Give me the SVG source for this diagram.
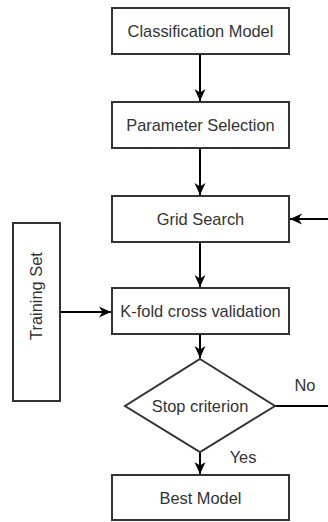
<svg xmlns="http://www.w3.org/2000/svg" width="328" height="522" viewBox="0 0 328 522">
  <defs>
    <marker id="arrow" markerUnits="userSpaceOnUse" markerWidth="13" markerHeight="13" viewBox="0 0 13 13" refX="12" refY="6.5" orient="auto">
      <path d="M0,1 L12,6.5 L0,12 L3.5,6.5 Z" fill="#000"/>
    </marker>
    <style>
      .box { fill: #fff; stroke: #333; stroke-width: 2; }
      .lbl { font-family: "Liberation Sans", Arial, sans-serif; font-size: 16.4px; fill: #333; text-anchor: middle; }
      .edge { fill: none; stroke: #000; stroke-width: 2; }
    </style>
  </defs>
  <rect width="328" height="522" fill="#fff"/>

  <g id="connectors">
    <path class="edge" d="M200,54 V101" marker-end="url(#arrow)"/>
    <path class="edge" d="M200,148 V195" marker-end="url(#arrow)"/>
    <path class="edge" d="M200,242 V287" marker-end="url(#arrow)"/>
    <path class="edge" d="M60,312 H111" marker-end="url(#arrow)"/>
    <path class="edge" d="M200,334 V358" marker-end="url(#arrow)"/>
    <path class="edge" d="M200,452 V474" marker-end="url(#arrow)"/>
    <path class="edge" d="M275,406 H328"/>
    <path class="edge" d="M328,219 H290" marker-end="url(#arrow)"/>
    <text class="lbl" x="305" y="391">No</text>
    <text class="lbl" x="243" y="463">Yes</text>
  </g>

  <g id="classification-model">
    <rect class="box" x="112" y="8" width="177" height="46"/>
    <text class="lbl" x="200.5" y="37">Classification Model</text>
  </g>
  <g id="parameter-selection">
    <rect class="box" x="112" y="102" width="177" height="46"/>
    <text class="lbl" x="200.5" y="131">Parameter Selection</text>
  </g>
  <g id="grid-search">
    <rect class="box" x="112" y="196" width="177" height="46"/>
    <text class="lbl" x="200.5" y="225">Grid Search</text>
  </g>
  <g id="kfold">
    <rect class="box" x="112" y="288" width="177" height="46"/>
    <text class="lbl" x="200.5" y="317">K-fold cross validation</text>
  </g>
  <g id="training-set">
    <rect class="box" x="13" y="223" width="47" height="178"/>
    <text class="lbl" transform="translate(41.5,296) rotate(-90)" x="0" y="0">Training Set</text>
  </g>
  <g id="stop-criterion">
    <polygon class="box" points="200,359 275,406 200,452 125,406"/>
    <text class="lbl" x="200" y="412">Stop criterion</text>
  </g>
  <g id="best-model">
    <rect class="box" x="112" y="475" width="177" height="45"/>
    <text class="lbl" x="200.5" y="504">Best Model</text>
  </g>
</svg>
